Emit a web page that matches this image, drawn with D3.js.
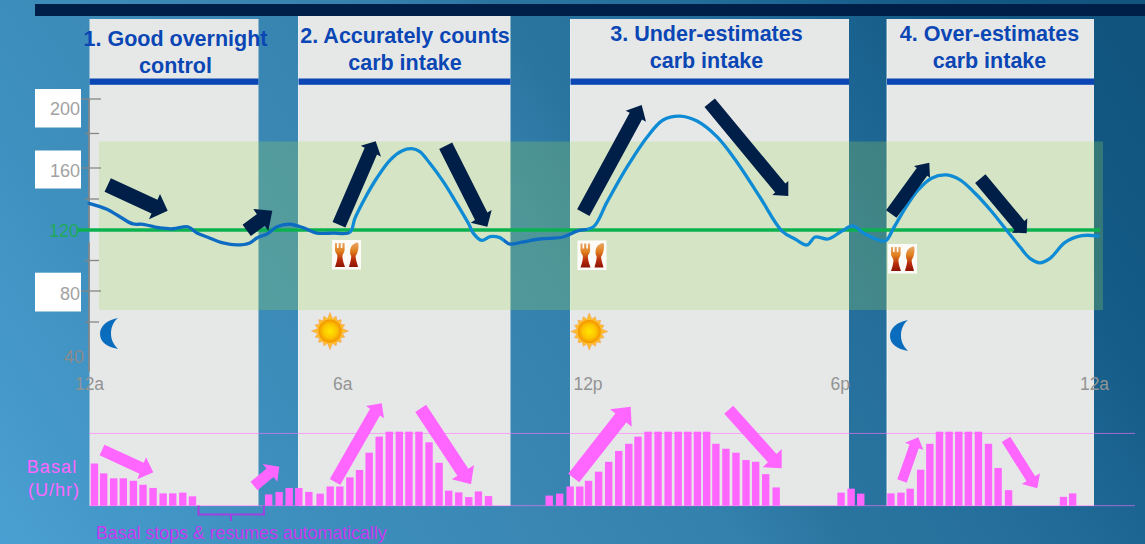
<!DOCTYPE html>
<html>
<head>
<meta charset="utf-8">
<script src="https://cdn.jsdelivr.net/npm/d3@7/dist/d3.min.js"></script>
<style>
  html, body { margin: 0; padding: 0; background: #3480ad; overflow: hidden; }
  svg { display: block; font-family: "Liberation Sans", Arial, sans-serif; }
</style>
</head>
<body>
<svg id="chart" width="1145" height="544"></svg>
<script>
// Sensor glucose over 24 hours (mg/dL)
const glucoseHours = [0,0.43,0.67,1.05,1.29,1.70,2.01,2.36,2.58,2.82,3.20,3.53,3.84,4.01,4.25,4.49,4.80,5.11,5.44,5.83,6.23,6.35,6.59,6.87,7.19,7.47,7.71,7.90,8.14,8.46,8.78,9.06,9.18,9.38,9.58,9.81,10.05,10.34,10.77,11.32,11.65,12.04,12.37,12.85,13.33,13.71,14.11,14.52,15.00,15.47,16.02,16.55,16.86,17.15,17.34,17.65,17.98,18.24,18.53,19.01,19.21,19.49,19.80,20.12,20.48,20.80,21.16,21.56,21.95,22.23,22.47,22.71,22.95,23.31,23.71,24.10];
const glucoseValues = [137.2,133.4,129.7,123.9,123.7,121.3,120.8,122.1,118,115.4,111.5,110.2,111.5,114.8,117.4,122.1,123.7,121.5,118,118,118.5,127.5,140.5,153.4,164.6,169.9,171.2,169.5,162.7,151.2,137.2,124.3,117.8,113.2,115.7,115,110.8,112.1,114.1,115.4,119.3,121.9,138,160.6,178,187.8,190.1,187.2,178,163.5,141.3,119.3,114.1,110.2,115.4,114.1,119.3,122.6,117.4,112.8,121.1,134,145.8,153.4,155.5,152.3,143.7,131.8,118.5,109,101.4,98.5,101.4,111.9,116.3,116];

// Basal delivery pulses (hour of day, U/hr); hours not listed are suspended
const basalHours = [0.13,0.35,0.59,0.82,1.06,1.29,1.53,1.77,2.00,2.24,2.47,4.29,4.54,4.78,5.01,5.25,5.52,5.76,5.99,6.23,6.46,6.69,6.93,7.17,7.41,7.64,7.88,8.12,8.36,8.59,8.83,9.07,9.30,9.54,10.99,11.24,11.49,11.72,11.93,12.17,12.41,12.65,12.89,13.11,13.35,13.59,13.83,14.07,14.30,14.53,14.75,14.97,15.21,15.45,15.69,15.92,16.16,16.41,17.96,18.20,18.43,19.15,19.39,19.61,19.86,20.08,20.31,20.54,20.77,21.00,21.24,21.48,21.71,21.96,23.27,23.49];
const basalRates = [1.71,1.31,1.11,1.11,1.01,0.85,0.72,0.50,0.50,0.53,0.38,0.46,0.56,0.72,0.72,0.56,0.49,0.78,0.78,1.15,1.45,2.15,2.80,3,3,3,3,2.57,1.74,0.61,0.54,0.35,0.58,0.39,0.41,0.49,0.78,0.78,1.01,1.38,1.78,2.22,2.51,2.80,3,3,3,3,3,3,3,2.51,2.31,2.15,1.85,1.78,1.28,0.74,0.53,0.69,0.49,0.50,0.53,0.69,1.46,2.51,3,3,3,3,3,2.51,1.53,0.63,0.36,0.50];

const glucoseMajorTicks = [200,160,120,80,40];
const glucoseMinorTicks = [180,140,100,60];
const timeTicks = [0,6,12,18,24];
const timeLabels = ["12a","6a","12p","6p","12a"];
const targetGlucose = 120;
const basalCeiling = 2.93;

const panelTitles = [
  ["1. Good overnight","control"],
  ["2. Accurately counts","carb intake"],
  ["3. Under-estimates","carb intake"],
  ["4. Over-estimates","carb intake"]
];

// Layout of the page furniture
const panels = [
  {x0:89.5, x1:258.5, top:19, tx:175.5, b1:46, b2:73},
  {x0:298.5, x1:510.5, top:16, tx:405, b1:43, b2:70},
  {x0:570.5, x1:849, top:19, tx:706.5, b1:41, b2:68},
  {x0:887, x1:1094, top:19, tx:989.5, b1:41, b2:68}
];
const labelBoxes = [[89,127.5],[150.5,188.5],[272.7,311.5]];
const yLabelOffsets = new Map([[200,9],[160,2],[120,0],[80,2],[40,3]]);
const timeLabelOffsets = [0,2,-4,-3,0];

// Block arrows: tail x,y, head corner, tip, head corner, shaft width
const navyArrows = [
  [107.7,185,160,194,167.7,210.7,149,219.3,15],
  [246.7,230.3,253.3,209,272.3,210.7,268.3,231,14],
  [339,224.7,360.7,145.7,375.7,141.3,381,156.7,14],
  [445.7,145.7,470.7,222.7,487.3,226.7,491.7,210,14.5],
  [583.3,212.7,625.7,110.7,641.7,105,646,121.7,14],
  [709.7,102.7,772.3,195,788.3,196,788.3,181,13.5],
  [891.3,214,914,166,929.3,162.7,930,177.7,13],
  [980.3,178.7,1011.7,232.7,1026.7,233.3,1027.3,218.3,13.5]
];
const pinkArrows = [
  [102,450,146,457.3,153.3,472.3,137.3,479.3,11.7],
  [254,486,262.7,464,279.3,466.7,277.3,481.7,11],
  [335,482,366,406,381.7,403.3,384,418.3,12],
  [420.7,408.3,451.7,479.3,471,484.3,474,465,13],
  [573.7,478,610,409.3,630.7,406.7,631.7,426.7,14],
  [728.7,409.7,762.7,467.3,781.7,468.3,781.7,449,12],
  [902,481,905,442.7,918.3,437.3,923.3,450,10],
  [1006,439.3,1021.7,484,1037.3,488.3,1040,473.3,10]
];

const svg = d3.select("#chart");
const defs = svg.append("defs");

// Scales. The printed glucose grid is not perfectly even, hence the piecewise range.
const x = d3.scaleLinear().domain([0,24]).range([89,1094]);
const y = d3.scaleLinear().domain([200,160,120,80,40]).range([99,168,230,291,353]);
const yBasal = d3.scaleLinear().domain([0,3]).range([505.7,431.7]);

// Backdrop
const bg = defs.append("linearGradient").attr("id","bg").attr("gradientUnits","userSpaceOnUse")
  .attr("x1",0).attr("y1",544).attr("x2",1145).attr("y2",-200);
[[0,"#4aa0d2"],[0.17,"#3e90bf"],[0.33,"#3a87b4"],[0.45,"#3581ae"],[0.52,"#2a75a0"],[0.63,"#256e9c"],[0.79,"#135a86"],[1,"#0f4f78"]]
  .forEach(([o,c]) => bg.append("stop").attr("offset",o).attr("stop-color",c));
svg.append("rect").attr("width",1145).attr("height",544).attr("fill","url(#bg)");
svg.append("rect").attr("x",35).attr("y",4).attr("width",1110).attr("height",12).attr("fill","#001f48");

// Scenario panels with their title rules
const panelG = svg.append("g");
panelG.selectAll("rect.panel").data(panels).join("rect").attr("class","panel")
  .attr("x",d=>d.x0).attr("y",d=>d.top).attr("width",d=>d.x1-d.x0).attr("height",d=>506-d.top)
  .attr("fill","#e6e8e8");
panelG.selectAll("line.edge").data(panels.slice(1)).join("line").attr("class","edge")
  .attr("x1",d=>d.x0).attr("x2",d=>d.x0).attr("y1",d=>d.top).attr("y2",506)
  .attr("stroke","#fff").attr("stroke-opacity",0.8);
panelG.selectAll("rect.rule").data(panels).join("rect").attr("class","rule")
  .attr("x",d=>d.x0).attr("y",78.5).attr("width",d=>d.x1-d.x0).attr("height",6.3)
  .attr("fill","#0a46b4");

// White plates behind the glucose labels
svg.append("g").selectAll("rect").data(labelBoxes).join("rect")
  .attr("x",35).attr("y",d=>d[0]).attr("width",46).attr("height",d=>d[1]-d[0]).attr("fill","#fff");

// Target range band
svg.append("rect").attr("x",99).attr("y",141.5).attr("width",1004).attr("height",168.5)
  .attr("fill","rgb(158,216,88)").attr("fill-opacity",0.25);

// Glucose axis
const yAxis = svg.append("g").attr("transform","translate(89,0)")
  .call(d3.axisLeft(y).tickValues(glucoseMajorTicks).tickSize(0).tickPadding(9));
yAxis.select(".domain").remove();
yAxis.selectAll("text").attr("font-family","inherit").attr("font-size",18)
  .attr("fill",d=>d===targetGlucose?"#1eaa5a":(d===40?"#8b8b8b":"#a2a2a2"))
  .attr("x",d=>d===40?-5:(d===120?-10:-9))
  .attr("dy","0.34em")
  .attr("transform",d=>`translate(0,${yLabelOffsets.get(d)})`);
const axisG = svg.append("g").attr("stroke","#858585");
[[200,120],[112,28]].forEach(([a,b]) => axisG.append("line")
  .attr("x1",89).attr("x2",89).attr("y1",y(a)).attr("y2",y(b)).attr("stroke-width",1.6));
axisG.selectAll("line.major").data(glucoseMajorTicks.filter(v=>v!==120&&v!==40)).join("line")
  .attr("class","major").attr("x1",81).attr("x2",101).attr("y1",y).attr("y2",y).attr("stroke-width",1.3);
axisG.selectAll("line.minor").data(glucoseMinorTicks).join("line")
  .attr("class","minor").attr("x1",85).attr("x2",99).attr("y1",y).attr("y2",y).attr("stroke-width",1.3);

svg.append("line").attr("x1",78).attr("x2",1100).attr("y1",y(targetGlucose)).attr("y2",y(targetGlucose))
  .attr("stroke","#0cb14f").attr("stroke-width",3.4);

// Time axis
const xAxis = svg.append("g").attr("transform","translate(0,378)")
  .call(d3.axisBottom(x).tickValues(timeTicks).tickSize(0).tickPadding(0)
    .tickFormat((d,i)=>timeLabels[i]));
xAxis.select(".domain").remove();
xAxis.selectAll("text").attr("font-family","inherit").attr("font-size",17.5).attr("fill","#939393")
  .attr("dy","0.71em").attr("dx",(d,i)=>timeLabelOffsets[i]);

// Glucose trace: deeper blue while it sits on target, brighter during the excursions
const traceGrad = defs.append("linearGradient").attr("id","trace").attr("gradientUnits","userSpaceOnUse")
  .attr("x1",x(0)).attr("x2",x(24)).attr("y1",0).attr("y2",0);
[[6.2,"#0d6cc2"],[6.2,"#0e8bd4"],[9.9,"#0e8bd4"],[9.9,"#0d6cc2"],[11.9,"#0d6cc2"],[11.9,"#0e8bd4"]]
  .forEach(([h,c]) => traceGrad.append("stop").attr("offset",h/24).attr("stop-color",c));
const trace = d3.line().x(d=>x(d[0])).y(d=>y(d[1])).curve(d3.curveCatmullRom.alpha(0.5));
svg.append("path").attr("d",trace(d3.zip(glucoseHours,glucoseValues)))
  .attr("fill","none").attr("stroke","url(#trace)").attr("stroke-width",3.3)
  .attr("stroke-linecap","round").attr("stroke-linejoin","round");

// Basal chart
[basalCeiling,0].forEach(v => svg.append("line").attr("x1",89).attr("x2",1135)
  .attr("y1",yBasal(v)).attr("y2",yBasal(v)).attr("stroke","#ff70ff").attr("stroke-opacity",0.6));
svg.append("g").selectAll("rect").data(d3.zip(basalHours,basalRates)).join("rect")
  .attr("x",d=>x(d[0])-3.7).attr("width",7.4)
  .attr("y",d=>yBasal(d[1])).attr("height",d=>yBasal(0)-yBasal(d[1]))
  .attr("fill","#ff66ff");

function arrowPath([tx,ty,ax,ay,px,py,bx,by,sw]) {
  const mx=(ax+bx)/2, my=(ay+by)/2;
  const len=Math.hypot(mx-tx,my-ty), nx=-(my-ty)/len, ny=(mx-tx)/len;
  const blen=Math.hypot(bx-ax,by-ay), ex=(bx-ax)/blen, ey=(by-ay)/blen;
  // keep the shaft edges on the same side as the corners they run into
  const s = (nx*ex+ny*ey) >= 0 ? -1 : 1;
  const p=[[tx+s*nx*sw/2,ty+s*ny*sw/2],[mx-ex*sw/2,my-ey*sw/2],[ax,ay],[px,py],[bx,by],
           [mx+ex*sw/2,my+ey*sw/2],[tx-s*nx*sw/2,ty-s*ny*sw/2]];
  return d3.line()(p)+"Z";
}
svg.append("g").selectAll("path").data(navyArrows).join("path").attr("d",arrowPath).attr("fill","#001f48");
svg.append("g").selectAll("path").data(pinkArrows).join("path").attr("d",arrowPath).attr("fill","#ff66ff");

// Panel titles
const titleG = svg.append("g").attr("font-weight","bold").attr("font-size",21.5)
  .attr("fill","#0a46b4").attr("text-anchor","middle");
panels.forEach((p,i) => {
  titleG.append("text").attr("x",p.tx).attr("y",p.b1).text(panelTitles[i][0]);
  titleG.append("text").attr("x",p.tx).attr("y",p.b2).text(panelTitles[i][1]);
});

// Basal captions
const basalLabel = svg.append("g").attr("fill","#ff66ff").attr("font-size",18).attr("text-anchor","middle");
basalLabel.append("text").attr("x",52).attr("y",473).attr("letter-spacing",1.1).text("Basal");
basalLabel.append("text").attr("x",54).attr("y",496).attr("letter-spacing",1).text("(U/hr)");
svg.append("path").attr("d","M198.5 505.5V514.5H264V505.5M231 514.5V521").attr("fill","none")
  .attr("stroke","#a040e0").attr("stroke-width",2);
svg.append("text").attr("x",96).attr("y",539).attr("font-size",17.8).attr("fill","#c838f0")
  .text("Basal stops & resumes automatically");

// Moon icons
const moonG = svg.append("g").attr("fill","#0a6cbc");
[[100,318],[890,320]].forEach(([mx,my]) => moonG.append("path")
  .attr("transform",`translate(${mx},${my})`)
  .attr("d","M18 0C7 2 0 8 0 16C0 24 7 29 18 31C13 26 11 21 11 15.5C11 10 13 4 18 0Z"));

// Sun icons
const sunGrad = defs.append("radialGradient").attr("id","sun");
[[0,"#ffe600"],[0.6,"#fcc400"],[1,"#f39200"]]
  .forEach(([o,c]) => sunGrad.append("stop").attr("offset",o).attr("stop-color",c));
const rays = d3.range(32).map(i => [i*Math.PI/16, i%2 ? 12.5 : (i%8===0 ? 18.5 : 16)]);
[[330,331],[589.3,331.5]].forEach(([sx,sy]) => {
  const g = svg.append("g").attr("transform",`translate(${sx},${sy})`);
  g.append("path").attr("d",d3.lineRadial().curve(d3.curveLinearClosed)(rays))
    .attr("fill","#fcbf2a").attr("stroke","#f5a15a").attr("stroke-width",0.6);
  g.append("circle").attr("r",11.5).attr("fill","url(#sun)");
});

// Meal icons: fork and knife on a white tile
const cutlery = defs.append("linearGradient").attr("id","cutlery").attr("x1",0).attr("x2",0).attr("y1",0).attr("y2",1);
[[0,"#e8a868"],[0.35,"#e0801e"],[0.7,"#b82a0a"],[1,"#8c1404"]]
  .forEach(([o,c]) => cutlery.append("stop").attr("offset",o).attr("stop-color",c));
[[332,240],[577.5,240.5],[888,244]].forEach(([mx,my]) => {
  const g = svg.append("g").attr("transform",`translate(${mx},${my})`);
  g.append("rect").attr("width",29).attr("height",29.5).attr("fill","#fdfbf8");
  g.append("path").attr("fill","url(#cutlery)")
    .attr("d","M3 3H5V8H6.6V3H8.8V8H10.4V3H12.6V10C12.6 13 10.6 13.5 10.4 16C10.4 20 12 24 13 27H3C4 24 5.4 20 5.4 16C5.2 13.5 3 13 3 10Z");
  g.append("path").attr("fill","url(#cutlery)")
    .attr("d","M25.5 2.5C26.4 2.5 26.5 4 26.5 6C26.5 10 25.2 14 23.6 16C23.6 20 25.5 24 26 27H17C17.6 24 19.2 20 19.2 16C17.6 14 17.6 10 19 7C20.2 4.8 23.5 2.5 25.5 2.5Z");
});
</script>
</body>
</html>
